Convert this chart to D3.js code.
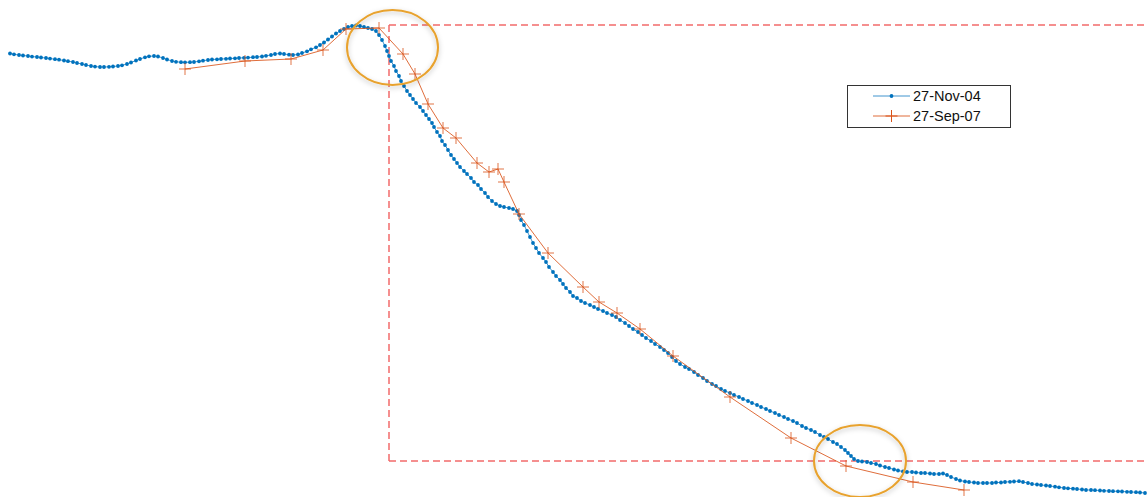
<!DOCTYPE html>
<html><head><meta charset="utf-8">
<script src="https://cdn.jsdelivr.net/npm/d3@7"></script>
<style>html,body{margin:0;padding:0;background:#fff;}svg{display:block;}</style>
</head><body><svg id="chart" width="1148" height="497"></svg>
<script>
// ---- data (distance along profile, value) ----
const seriesNames = ["27-Nov-04", "27-Sep-07"];

const blueX = [1.0,1.4,1.9,2.3,2.8,3.2,3.7,4.1,4.6,5.0,5.5,5.9,6.4,6.8,7.3,7.7,8.2,8.6,9.1,9.5,10.0,10.4,10.9,11.3,11.8,12.2,12.7,13.1,13.6,14.0,14.5,14.9,15.4,15.8,16.3,16.7,17.2,17.6,18.1,18.5,19.0,19.4,19.9,20.3,20.8,21.2,21.7,22.1,22.6,23.0,23.5,23.9,24.4,24.8,25.3,25.7,26.2,26.6,27.1,27.5,28.0,28.4,28.9,29.3,29.8,30.2,30.7,31.1,31.6,32.0,32.4,32.8,33.2,33.6,34.0,34.4,34.8,35.2,35.6,36.0,36.4,36.8,37.2,37.6,37.9,38.2,38.5,38.7,38.9,39.1,39.4,39.6,39.9,40.1,40.4,40.7,41.0,41.3,41.6,42.0,42.3,42.6,42.9,43.2,43.4,43.7,44.0,44.2,44.5,44.8,45.1,45.4,45.7,46.0,46.4,46.7,47.1,47.4,47.8,48.1,48.5,48.8,49.2,49.6,50.0,50.4,50.9,51.3,51.7,51.9,52.1,52.4,52.7,53.0,53.3,53.6,53.9,54.3,54.6,54.9,55.3,55.6,56.0,56.3,56.6,57.0,57.3,57.7,58.1,58.5,59.0,59.4,59.8,60.3,60.7,61.2,61.6,62.0,62.5,62.9,63.3,63.8,64.2,64.6,65.1,65.5,66.0,66.4,66.8,67.2,67.6,68.0,68.5,68.9,69.4,69.8,70.3,70.7,71.2,71.6,72.1,72.5,73.0,73.4,73.9,74.3,74.8,75.2,75.7,76.1,76.6,77.0,77.5,77.9,78.4,78.8,79.3,79.7,80.2,80.6,81.1,81.5,82.0,82.4,82.8,83.3,83.7,84.1,84.5,84.8,85.1,85.4,85.8,86.2,86.7,87.1,87.6,88.0,88.5,88.9,89.4,89.8,90.3,90.7,91.2,91.6,92.1,92.5,93.0,93.4,93.9,94.3,94.7,95.1,95.6,96.0,96.5,96.9,97.4,97.8,98.3,98.7,99.2,99.6,100.1,100.5,101.0,101.4,101.9,102.3,102.8,103.2,103.7,104.1,104.6,105.0,105.5,105.9,106.4,106.8,107.3,107.7,108.2,108.6,109.1,109.5,110.0,110.4,110.9,111.3,111.8,112.2,112.7,113.1,113.6,114.0,114.5];
const blueY = [44.65,44.57,44.5,44.45,44.4,44.34,44.3,44.25,44.2,44.14,44.08,44.03,43.95,43.88,43.8,43.7,43.6,43.5,43.4,43.34,43.3,43.3,43.32,43.35,43.4,43.47,43.6,43.75,43.95,44.1,44.27,44.37,44.4,44.35,44.2,44.05,43.9,43.82,43.78,43.77,43.78,43.8,43.87,43.93,44.0,44.05,44.07,44.1,44.12,44.15,44.17,44.2,44.22,44.24,44.28,44.3,44.35,44.42,44.5,44.6,44.65,44.6,44.53,44.5,44.55,44.7,44.87,45.07,45.27,45.5,45.75,46.05,46.35,46.65,46.9,47.1,47.3,47.4,47.45,47.4,47.3,47.2,47.1,46.9,46.5,46.0,45.4,44.9,44.4,43.9,43.4,42.9,42.4,41.9,41.4,40.9,40.5,40.1,39.7,39.3,38.9,38.5,38.1,37.7,37.3,36.8,36.4,35.9,35.5,35.0,34.5,34.1,33.7,33.3,32.9,32.6,32.2,31.8,31.5,31.1,30.7,30.3,29.9,29.6,29.4,29.3,29.2,29.1,28.9,28.5,28.0,27.5,26.9,26.3,25.7,25.2,24.7,24.2,23.8,23.3,22.8,22.4,22.0,21.6,21.2,20.8,20.4,20.2,19.9,19.7,19.5,19.3,19.1,18.9,18.7,18.5,18.3,18.0,17.7,17.4,17.1,16.8,16.5,16.2,15.9,15.6,15.3,15.0,14.7,14.3,13.9,13.6,13.3,13.1,12.8,12.5,12.2,11.9,11.6,11.4,11.1,10.9,10.7,10.5,10.3,10.1,9.9,9.7,9.5,9.3,9.1,8.9,8.7,8.5,8.3,8.1,7.9,7.7,7.4,7.2,7.0,6.8,6.5,6.3,6.1,5.8,5.6,5.3,5.0,4.7,4.4,4.1,3.9,3.85,3.8,3.7,3.6,3.45,3.3,3.2,3.05,2.95,2.85,2.8,2.8,2.75,2.7,2.7,2.65,2.6,2.6,2.65,2.5,2.3,2.1,1.95,1.85,1.8,1.75,1.7,1.7,1.7,1.7,1.75,1.75,1.8,1.82,1.85,1.88,1.8,1.7,1.6,1.55,1.5,1.45,1.4,1.33,1.27,1.2,1.17,1.13,1.1,1.05,1.0,1.0,0.98,0.95,0.92,0.9,0.88,0.87,0.85,0.82,0.8,0.78,0.75,0.7];

const orangeX = [18.5,24.5,29.1,32.3,34.6,37.9,40.3,41.5,42.8,44.3,45.6,47.7,48.9,49.8,50.4,51.9,54.8,58.3,59.9,61.7,64.0,67.3,73.0,79.1,84.6,91.3,96.4];
const orangeY = [43.1,43.9,44.1,45.0,47.1,47.2,44.6,42.6,39.6,37.2,36.2,33.7,32.8,33.1,31.8,28.6,24.7,21.3,19.8,18.7,17.1,14.4,10.3,6.2,3.4,1.8,1.0];

// annotation: dashed box edges and highlight ellipses (data units)
const boxLeft = 38.9, boxTop = 47.5, boxBottom = 3.9;
const ellipseCx = [39.25, 86.0];
const ellipseCy = [45.25, 3.9];
const ellipseRx = [4.55, 4.6];
const ellipseRy = [3.75, 3.6];

// ---- rendering ----
const W = 1148, H = 497;
const svg = d3.select("#chart");
const x = d3.scaleLinear().domain([0, 114.8]).range([0, W]);
const y = d3.scaleLinear().domain([0, 50]).range([500, 0]);

const blue = "#0072BD", orange = "#D95319";
const blueData = blueX.map((v, i) => [v, blueY[i]]);
const orangeData = orangeX.map((v, i) => [v, orangeY[i]]);

const defs = svg.append("defs");
const f = defs.append("filter").attr("id", "shadow").attr("x", "-20%").attr("y", "-20%").attr("width", "140%").attr("height", "140%");
f.append("feDropShadow").attr("dx", 0).attr("dy", 2).attr("stdDeviation", 2.5).attr("flood-color", "#000").attr("flood-opacity", 0.25);

// dashed box
const dash = svg.append("g").attr("fill", "none").attr("stroke", "#F26B6B").attr("stroke-width", 1.5).attr("stroke-dasharray", "7,4");
dash.append("line").attr("x1", x(boxLeft)).attr("x2", x(boxLeft)).attr("y1", y(boxTop)).attr("y2", y(boxBottom));
dash.append("line").attr("x1", x(boxLeft)).attr("x2", W).attr("y1", y(boxTop)).attr("y2", y(boxTop));
dash.append("line").attr("x1", x(boxLeft)).attr("x2", W).attr("y1", y(boxBottom)).attr("y2", y(boxBottom));

const line = d3.line().x(d => x(d[0])).y(d => y(d[1]));

// blue series
svg.append("path").datum(blueData).attr("d", line).attr("fill", "none").attr("stroke", blue).attr("stroke-width", 1).attr("stroke-opacity", 0.75);
svg.append("g").selectAll("circle").data(blueData).join("circle")
  .attr("cx", d => x(d[0])).attr("cy", d => y(d[1])).attr("r", 1.9).attr("fill", blue);

// orange series
svg.append("path").datum(orangeData).attr("d", line).attr("fill", "none").attr("stroke", orange).attr("stroke-width", 1).attr("stroke-opacity", 0.85);
const m = 6;
svg.append("g").selectAll("path").data(orangeData).join("path")
  .attr("d", d => `M${x(d[0]) - m},${y(d[1])}H${x(d[0]) + m}M${x(d[0])},${y(d[1]) - m}V${y(d[1]) + m}`)
  .attr("stroke", orange).attr("stroke-width", 1).attr("stroke-opacity", 0.8).attr("fill", "none");

// ellipses
svg.append("g").selectAll("ellipse").data(ellipseCx).join("ellipse")
  .attr("cx", (d, i) => x(d)).attr("cy", (d, i) => y(ellipseCy[i]))
  .attr("rx", (d, i) => x(ellipseRx[i]) - x(0)).attr("ry", (d, i) => y(0) - y(ellipseRy[i]))
  .attr("fill", "none").attr("stroke", "#E8A22E").attr("stroke-width", 2).attr("filter", "url(#shadow)");

// legend
const lg = svg.append("g").attr("font-family", "'Liberation Sans', Arial, sans-serif").attr("font-size", 14.5);
lg.append("rect").attr("x", 847.5).attr("y", 85.5).attr("width", 163).attr("height", 42).attr("fill", "#fff").attr("stroke", "#333").attr("stroke-width", 1);
const ly = [96, 116];
lg.append("line").attr("x1", 873).attr("x2", 910).attr("y1", ly[0]).attr("y2", ly[0]).attr("stroke", blue).attr("stroke-width", 1).attr("stroke-opacity", 0.75);
lg.append("circle").attr("cx", 891.5).attr("cy", ly[0]).attr("r", 1.9).attr("fill", blue);
lg.append("line").attr("x1", 873).attr("x2", 910).attr("y1", ly[1]).attr("y2", ly[1]).attr("stroke", orange).attr("stroke-width", 1).attr("stroke-opacity", 0.85);
lg.append("path").attr("d", `M${891.5 - m},${ly[1]}H${891.5 + m}M891.5,${ly[1] - m}V${ly[1] + m}`).attr("stroke", orange).attr("stroke-width", 1);
seriesNames.forEach((n, i) => {
  lg.append("text").attr("x", 913).attr("y", ly[i]).attr("dy", "0.35em").attr("fill", "#111").text(n);
});
</script></body></html>
